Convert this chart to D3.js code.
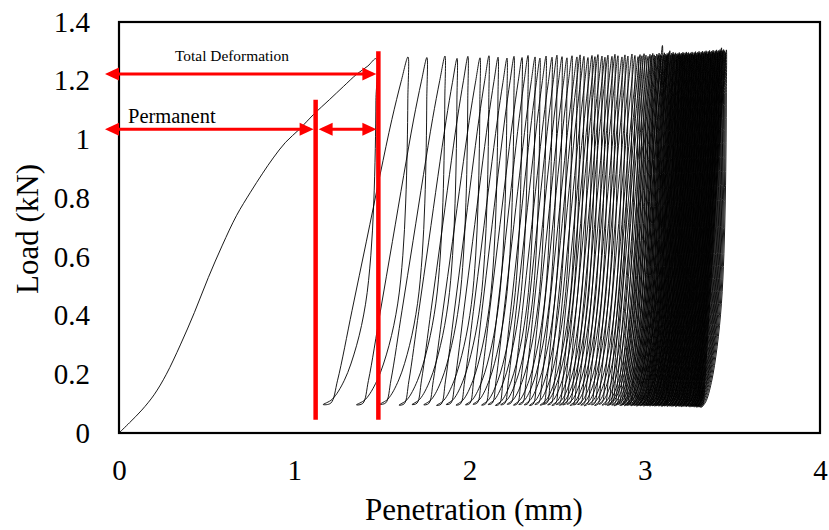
<!DOCTYPE html>
<html>
<head>
<meta charset="utf-8">
<script src="https://cdn.jsdelivr.net/npm/d3@7"></script>
<style>
  html, body { margin: 0; padding: 0; background: #fff; }
  svg { display: block; }
  text { font-family: "Liberation Serif", "Times New Roman", serif; fill: #000; }
</style>
</head>
<body>
<svg id="chart" width="829" height="530"></svg>
<script>
// ---------------- data ----------------
const xTicks = [0, 1, 2, 3, 4];
const xTickLabels = ["0", "1", "2", "3", "4"];
const yTicks = [0, 0.2, 0.4, 0.6, 0.8, 1.0, 1.2, 1.4];
const yTickLabels = ["0", "0.2", "0.4", "0.6", "0.8", "1", "1.2", "1.4"];

// first (monotonic) loading branch
const firstLoadMm = [0, 0.06, 0.13, 0.20, 0.27, 0.35, 0.43, 0.51, 0.59, 0.67, 0.75,
                     0.82, 0.88, 0.95, 1.03, 1.11, 1.20, 1.28, 1.358, 1.42, 1.467];
const firstLoadKn = [0, 0.035, 0.078, 0.13, 0.20, 0.30, 0.41, 0.53, 0.64, 0.74, 0.82,
                     0.885, 0.937, 0.99, 1.035, 1.085, 1.135, 1.18, 1.223, 1.25, 1.275];

// penetration at the peak of every load cycle (mm)
const cyclePeakMm = [
  1.467, 1.649, 1.757, 1.860, 1.929, 1.991, 2.060, 2.111, 2.163, 2.214,
  2.254, 2.300, 2.334, 2.374, 2.402, 2.437, 2.471, 2.499, 2.528, 2.556,
  2.585, 2.613, 2.631, 2.653, 2.676, 2.699, 2.716, 2.733, 2.756, 2.773,
  2.790, 2.813, 2.830, 2.847, 2.870, 2.887, 2.904, 2.927, 2.944, 2.962,
  2.973, 2.984, 2.996, 3.007, 3.019, 3.030, 3.038, 3.046, 3.054, 3.061,
  3.069, 3.076, 3.082, 3.089, 3.095, 3.101, 3.107, 3.112, 3.118, 3.123,
  3.128, 3.133, 3.138, 3.143, 3.148, 3.153, 3.158, 3.162, 3.167, 3.171,
  3.176, 3.180, 3.185, 3.189, 3.193, 3.197, 3.202, 3.206, 3.210, 3.214,
  3.218, 3.222, 3.226, 3.230, 3.234, 3.238, 3.242, 3.246, 3.250, 3.254,
  3.258, 3.262, 3.266, 3.270, 3.274, 3.278, 3.282, 3.286, 3.290, 3.294,
  3.298, 3.302, 3.306, 3.310, 3.314, 3.318, 3.322, 3.326, 3.330, 3.334,
  3.338, 3.342, 3.346, 3.350, 3.354, 3.358, 3.362, 3.366, 3.370, 3.374,
  3.378, 3.382, 3.386, 3.390, 3.394, 3.398, 3.402, 3.406, 3.410, 3.414,
  3.418, 3.422, 3.426, 3.430, 3.434, 3.438, 3.442, 3.446, 3.450, 3.455,
  3.460, 3.466
];

// peak load of every cycle (kN)
const cyclePeakKn = [
  1.275, 1.281, 1.279, 1.284, 1.276, 1.283, 1.278, 1.285, 1.280, 1.277,
  1.283, 1.279, 1.286, 1.281, 1.277, 1.284, 1.280, 1.287, 1.282, 1.278,
  1.285, 1.281, 1.288, 1.283, 1.279, 1.286, 1.282, 1.289, 1.284, 1.280,
  1.287, 1.283, 1.290, 1.285, 1.281, 1.288, 1.284, 1.291, 1.286, 1.282,
  1.289, 1.285, 1.292, 1.287, 1.283, 1.290, 1.286, 1.293, 1.288, 1.284,
  1.291, 1.287, 1.294, 1.289, 1.285, 1.320, 1.288, 1.295, 1.290, 1.286,
  1.293, 1.289, 1.296, 1.302, 1.287, 1.294, 1.290, 1.297, 1.292, 1.288,
  1.295, 1.291, 1.285, 1.293, 1.289, 1.296, 1.292, 1.286, 1.294, 1.290,
  1.297, 1.293, 1.287, 1.295, 1.291, 1.298, 1.294, 1.288, 1.296, 1.292,
  1.289, 1.295, 1.291, 1.298, 1.293, 1.287, 1.296, 1.292, 1.299, 1.294,
  1.288, 1.297, 1.293, 1.300, 1.295, 1.289, 1.298, 1.294, 1.301, 1.296,
  1.290, 1.299, 1.295, 1.302, 1.297, 1.291, 1.300, 1.296, 1.303, 1.298,
  1.292, 1.301, 1.297, 1.304, 1.299, 1.293, 1.302, 1.298, 1.305, 1.300,
  1.294, 1.303, 1.299, 1.306, 1.301, 1.312, 1.303, 1.299, 1.306, 1.302,
  1.296, 1.305
];

// elastic (recovered) penetration of every unloading branch (mm)
const cycleRecoveryMm = [
  0.302, 0.294, 0.268, 0.262, 0.257, 0.252, 0.248, 0.244, 0.240, 0.237,
  0.234, 0.231, 0.228, 0.226, 0.224, 0.222, 0.220, 0.218, 0.216, 0.214,
  0.212, 0.210, 0.209, 0.207, 0.206, 0.204, 0.203, 0.201, 0.200, 0.199,
  0.197, 0.196, 0.195, 0.194, 0.192, 0.191, 0.190, 0.189, 0.188, 0.187,
  0.186, 0.185, 0.184, 0.183, 0.182, 0.181, 0.180, 0.180, 0.179, 0.178,
  0.177, 0.176, 0.176, 0.175, 0.174, 0.173, 0.173, 0.172, 0.171, 0.171,
  0.170, 0.169, 0.169, 0.168, 0.167, 0.167, 0.166, 0.166, 0.165, 0.164,
  0.164, 0.163, 0.163, 0.162, 0.162, 0.161, 0.160, 0.160, 0.159, 0.159,
  0.158, 0.158, 0.157, 0.157, 0.156, 0.156, 0.155, 0.155, 0.154, 0.154,
  0.153, 0.153, 0.153, 0.152, 0.152, 0.151, 0.151, 0.150, 0.150, 0.150,
  0.149, 0.149, 0.148, 0.148, 0.148, 0.147, 0.147, 0.147, 0.146, 0.146,
  0.146, 0.145, 0.145, 0.145, 0.145, 0.144, 0.144, 0.144, 0.144, 0.143,
  0.143, 0.143, 0.143, 0.143, 0.142, 0.142, 0.142, 0.142, 0.142, 0.142,
  0.142, 0.142, 0.142, 0.142, 0.143, 0.143, 0.143, 0.143, 0.143, 0.143,
  0.143, 0.143
];

// minimum (seating) load reached at the end of every unloading branch (kN)
const cycleFootKn = [
  0.097, 0.096, 0.098, 0.095, 0.097, 0.096, 0.094, 0.097, 0.095, 0.096,
  0.098, 0.095, 0.097, 0.094, 0.096, 0.098, 0.095, 0.097, 0.096, 0.094,
  0.097, 0.095, 0.098, 0.096, 0.094, 0.097, 0.095, 0.096, 0.098, 0.094,
  0.096, 0.097, 0.095, 0.093, 0.097, 0.096, 0.094, 0.098, 0.095, 0.096,
  0.094, 0.097, 0.095, 0.093, 0.096, 0.098, 0.094, 0.095, 0.097, 0.093,
  0.096, 0.094, 0.098, 0.095, 0.093, 0.097, 0.095, 0.094, 0.096, 0.092,
  0.095, 0.097, 0.094, 0.093, 0.096, 0.095, 0.092, 0.097, 0.094, 0.095,
  0.093, 0.096, 0.094, 0.092, 0.097, 0.095, 0.093, 0.094, 0.096, 0.092,
  0.095, 0.093, 0.097, 0.094, 0.092, 0.095, 0.096, 0.093, 0.091, 0.095,
  0.094, 0.092, 0.096, 0.093, 0.095, 0.091, 0.094, 0.096, 0.092, 0.093,
  0.095, 0.091, 0.094, 0.092, 0.096, 0.093, 0.090, 0.094, 0.095, 0.092,
  0.093, 0.091, 0.095, 0.092, 0.090, 0.094, 0.093, 0.091, 0.095, 0.092,
  0.090, 0.093, 0.094, 0.091, 0.092, 0.089, 0.094, 0.092, 0.090, 0.093,
  0.091, 0.089, 0.093, 0.092, 0.090, 0.088, 0.092, 0.091, 0.089, 0.090,
  0.088, 0.087
];

// normalised branch shapes [fraction of span, fraction of load range]
const unloadShape = [[1, 1], [0.997, 0.88], [0.985, 0.74], [0.955, 0.58], [0.9, 0.43],
                     [0.8, 0.29], [0.63, 0.17], [0.4, 0.07], [0.17, 0.015], [0, 0]];
const reloadShape = [[0, 0], [0.09, 0.004], [0.17, 0.07], [0.34, 0.27], [0.51, 0.47],
                     [0.67, 0.66], [0.81, 0.82], [0.92, 0.93], [1, 1]];

// deformation markers: permanent and total penetration after the first cycle
const markerLabels = ["Permanent", "Total Deformation"];
const markerMm = [1.122, 1.48];
const markerTopKn = [1.135, 1.30];
const markerBottomKn = 0.045;
const arrowKn = [1.035, 1.223];
const arrowStartMm = -0.08;

// ---------------- layout ----------------
const svg = d3.select("#chart");
const x = d3.scaleLinear().domain([0, 4]).range([119, 820]);
const y = d3.scaleLinear().domain([0, 1.4]).range([433, 22]);

// axes (labels only, the frame is drawn separately)
const xAxis = d3.axisBottom(x).tickValues(xTicks)
  .tickFormat((d, i) => xTickLabels[i]).tickSize(0).tickPadding(26);
const gx = svg.append("g").attr("transform", `translate(0,${y(0)})`).call(xAxis);
gx.select(".domain").remove();
gx.selectAll("text").attr("font-size", 29).attr("font-family", "Liberation Serif, serif").attr("fill", "#000");

const yAxis = d3.axisLeft(y).tickValues(yTicks)
  .tickFormat((d, i) => yTickLabels[i]).tickSize(0).tickPadding(29);
const gy = svg.append("g").attr("transform", `translate(${x(0)},0)`).call(yAxis);
gy.select(".domain").remove();
gy.selectAll("text").attr("font-size", 29).attr("font-family", "Liberation Serif, serif").attr("fill", "#000");

// axis titles
svg.append("text").attr("x", 474).attr("y", 520).attr("text-anchor", "middle")
  .attr("font-size", 31).text("Penetration (mm)");
svg.append("text").attr("transform", "translate(38,229) rotate(-90)")
  .attr("text-anchor", "middle").attr("font-size", 31).text("Load (kN)");

// ---------------- load–penetration trace ----------------
const pts = firstLoadMm.map((d, i) => [d, firstLoadKn[i]]);
const n = cyclePeakMm.length;
for (let k = 0; k < n; k++) {
  const peak = cyclePeakMm[k], peakKn = cyclePeakKn[k];
  const foot = peak - cycleRecoveryMm[k], footKn = cycleFootKn[k];
  // unloading branch
  unloadShape.slice(1).forEach(([u, v]) => {
    pts.push([foot + u * (peak - foot), footKn + v * (peakKn - footKn)]);
  });
  // reloading branch up to the next peak
  if (k + 1 < n) {
    const nextPeak = cyclePeakMm[k + 1], nextKn = cyclePeakKn[k + 1];
    reloadShape.slice(1).forEach(([u, v]) => {
      pts.push([foot + u * (nextPeak - foot), footKn + v * (nextKn - footKn)]);
    });
  }
}

const line = d3.line().x(d => x(d[0])).y(d => y(d[1]))
  .curve(d3.curveCatmullRom.alpha(0.5));
svg.append("path").attr("d", line(pts))
  .attr("fill", "none").attr("stroke", "#000").attr("stroke-width", 0.9)
  .attr("stroke-linejoin", "round");

// plot-area frame
svg.append("rect").attr("x", x(0)).attr("y", y(1.4))
  .attr("width", x(4) - x(0)).attr("height", y(0) - y(1.4))
  .attr("fill", "none").attr("stroke", "#000").attr("stroke-width", 2.2);

// ---------------- deformation annotation ----------------
const red = "#ff0000";
const ann = svg.append("g");
const headLen = 14, headHalf = 6.5;
function head(tipX, yc, dir) {
  // dir = -1 points left, +1 points right
  const bx = tipX - dir * headLen;
  ann.append("polygon")
    .attr("points", `${tipX},${yc} ${bx},${yc - headHalf} ${bx},${yc + headHalf}`)
    .attr("fill", red);
}
function doubleArrow(x1, x2, yc) {
  ann.append("line").attr("x1", x1 + 4).attr("x2", x2 - 4)
    .attr("y1", yc).attr("y2", yc).attr("stroke", red).attr("stroke-width", 3);
  head(x1, yc, -1);
  head(x2, yc, 1);
}

// vertical marker lines
markerMm.forEach((m, i) => {
  ann.append("line").attr("x1", x(m)).attr("x2", x(m))
    .attr("y1", y(markerBottomKn)).attr("y2", y(markerTopKn[i]))
    .attr("stroke", red).attr("stroke-width", 4.5);
});

// permanent: axis -> permanent marker, and elastic part between markers
doubleArrow(x(arrowStartMm), x(markerMm[0]) - 2, y(arrowKn[0]));
doubleArrow(x(markerMm[0]) + 3, x(markerMm[1]) - 2, y(arrowKn[0]));
// total deformation: axis -> total marker
doubleArrow(x(arrowStartMm), x(markerMm[1]) - 2, y(arrowKn[1]));

svg.append("text").attr("x", 128).attr("y", y(arrowKn[0]) - 6)
  .attr("font-size", 20.5).text(markerLabels[0]);
svg.append("text").attr("x", 232).attr("y", 61).attr("text-anchor", "middle")
  .attr("font-size", 15.4).text(markerLabels[1]);
</script>
</body>
</html>
